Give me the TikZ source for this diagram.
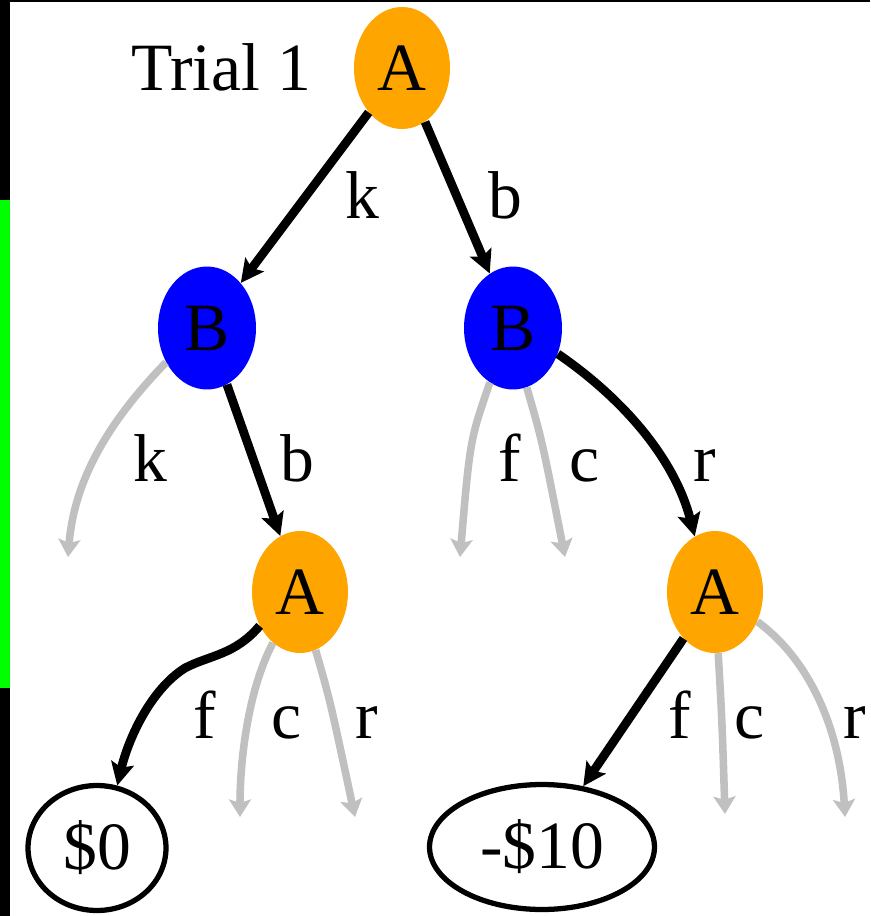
\documentclass[tikz,border=0pt]{standalone}
\usepackage{fontspec}
\setmainfont{Liberation Serif}
\usetikzlibrary{arrows.meta,shapes.geometric}
\definecolor{nodeorange}{RGB}{255,165,0}
\definecolor{nodeblue}{RGB}{0,0,255}
\definecolor{offgray}{RGB}{192,192,192}
\tikzset{
	anode/.style={ellipse,fill=nodeorange,inner sep=0pt,minimum width=1.92cm,minimum height=2.44cm},
	bnode/.style={ellipse,fill=nodeblue,inner sep=0pt,minimum width=1.96cm,minimum height=2.46cm},
	payoff/.style={ellipse,draw,line width=3pt,inner sep=0pt,minimum height=2.5cm},
	lbl/.style={anchor=base,inner sep=0pt},
	taken/.style={line width=5pt,-{Stealth[length=13pt,width=13pt,inset=2.5pt]}},
	untaken/.style={offgray,line width=4.3pt,-{Stealth[length=10pt,width=12.5pt,inset=2pt]}}
}
\begin{document}
\begin{tikzpicture}[x=0.02cm,y=-0.02cm,font=\fontsize{38.5}{46}\selectfont]
	\useasboundingbox (0,0) rectangle (870,916);
	\fill[black] (0,0) rectangle (870,2);
	\fill[black] (0,0) rectangle (10,916);
	\fill[green] (0,200) rectangle (10,688);

	\node[anode] (A1) at (402,68) {A};
	\node[bnode] (Bk) at (207,328) {B};
	\node[bnode] (Bb) at (513,328) {B};
	\node[anode] (Akb) at (300,592) {A};
	\node[anode] (Abr) at (715,592) {A};
	\node[payoff,minimum width=2.76cm] (pay0) at (97,848) {\$0};
	\node[payoff,minimum width=4.5cm] (paym10) at (542,847) {-\$10};

	\coordinate (Bkk) at (68,557);
	\coordinate (Bbf) at (460,557);
	\coordinate (Bbc) at (565,557);
	\coordinate (Akbc) at (240,817);
	\coordinate (Akbr) at (355,817);
	\coordinate (Abrc) at (725,814);
	\coordinate (Abrr) at (845,817);

	\node[lbl] (trial) at (221,90) {Trial 1};
	\node[lbl] (lk1) at (362,218) {k};
	\node[lbl] (lb1) at (505,218) {b};
	\node[lbl] (lk2) at (150,481) {k};
	\node[lbl] (lb2) at (297,481) {b};
	\node[lbl] (lf2) at (510,481) {f};
	\node[lbl] (lc2) at (585,481) {c};
	\node[lbl] (lr2) at (705,481) {r};
	\node[lbl] (lf3) at (205,738) {f};
	\node[lbl] (lc3) at (287,738) {c};
	\node[lbl] (lr3) at (367,738) {r};
	\node[lbl] (lf4) at (680,738) {f};
	\node[lbl] (lc4) at (750,738) {c};
	\node[lbl] (lr4) at (855,738) {r};

	\draw[untaken] (Bk.220) .. controls (120,410) and (75,470) .. (Bkk);
	\draw[untaken] (Bb.247) .. controls (470,440) .. (Bbf);
	\draw[untaken] (Bb.283) .. controls (542,440) .. (Bbc);
	\draw[untaken] (Akb.242) .. controls (248,690) and (240,760) .. (Akbc);
	\draw[untaken] (Akb.285) .. controls (330,700) .. (Akbr);
	\draw[untaken] (Abr.273) .. controls (722,720) .. (Abrc);
	\draw[untaken] (Abr.325) .. controls (810,660) and (840,730) .. (Abrr);

	\draw[taken] (A1) -- (Bk);
	\draw[taken] (A1) -- (Bb);
	\draw[taken] (Bk) -- (Akb);
	\draw[taken] (Bb.-30) .. controls (625,400) and (675,460) .. (Abr.110);
	\draw[taken] (Akb.220) .. controls (235,655) and (210,655) .. (185,668) .. controls (150,690) and (128,740) .. (pay0.72);
	\draw[taken] (Abr) -- (paym10);
\end{tikzpicture}
\end{document}
